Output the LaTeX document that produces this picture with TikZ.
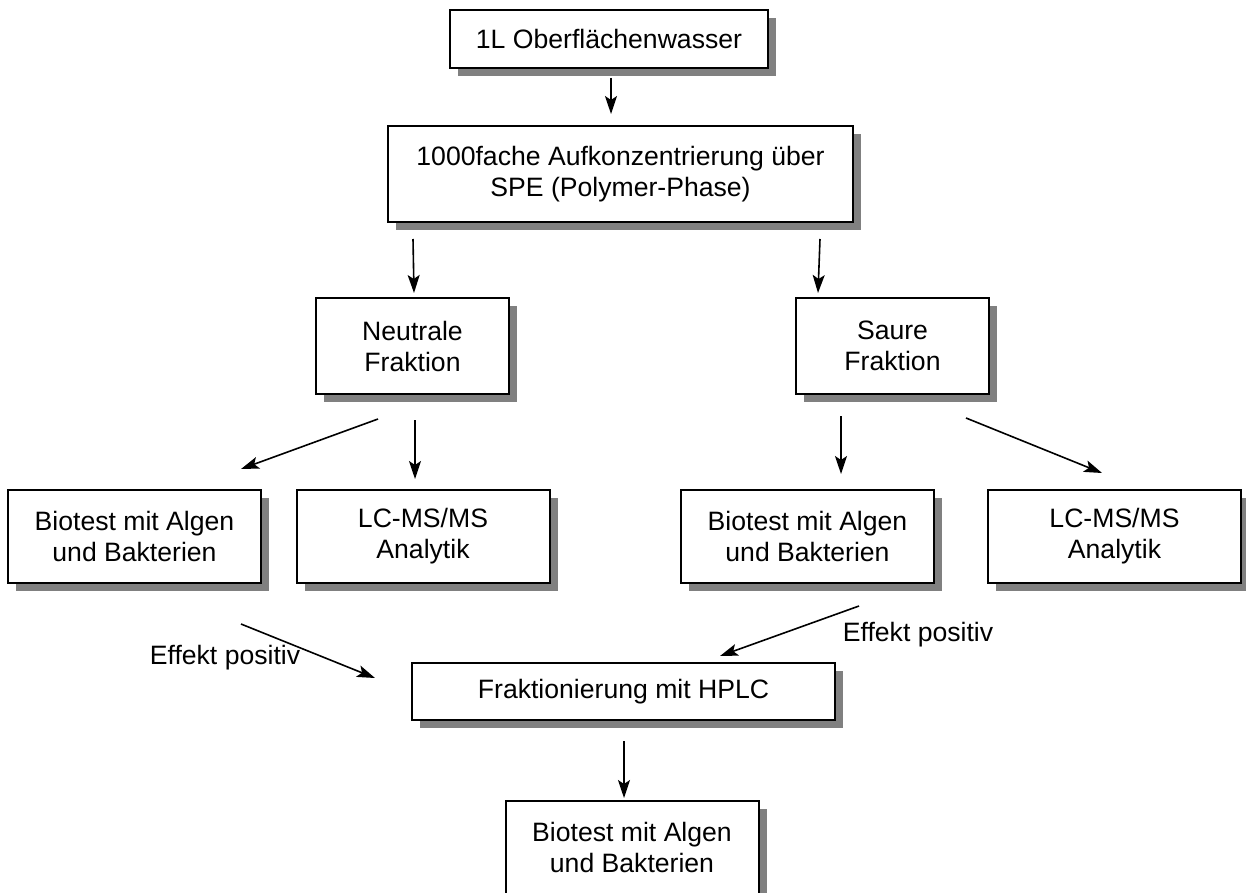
\documentclass[tikz,border=0pt]{standalone}
\usepackage{fontspec}
\setmainfont{Liberation Sans}
\usepackage{tikz}
\usetikzlibrary{arrows.meta,shadows}
\definecolor{flowgray}{HTML}{808080}
\definecolor{flowdark}{HTML}{000000}
\tikzset{
  box/.style={draw=flowdark,line width=1pt,fill=white,align=center,inner sep=0pt,
    drop shadow={shadow xshift=4pt,shadow yshift=-4pt,fill=flowgray,opacity=1},
    font=\fontsize{13.3}{15.5}\selectfont},
  wide/.style={box,minimum width=126.5pt,minimum height=46.5pt},
  narrow/.style={box,minimum width=96.5pt,minimum height=48pt},
  ar/.style={-{Stealth[length=9pt,width=6pt,inset=2pt]},draw=flowdark,line width=0.8pt},
  lbl/.style={font=\fontsize{13.3}{15.5}\selectfont,inner sep=0pt},
}
\begin{document}
\begin{tikzpicture}[x=0.5pt,y=-0.5pt]
    \useasboundingbox (0,0) rectangle (1246,893);
    \node[box,minimum width=159pt,minimum height=29pt] (water) at (609,39) {1L Oberflächenwasser};
    \node[box,minimum width=232.5pt,minimum height=48pt] (spe) at (620.5,174) {1000fache Aufkonzentrierung über\\SPE (Polymer-Phase)};
    \node[narrow] (neutral) at (412.5,346) {Neutrale\\Fraktion};
    \node[narrow] (saure) at (892.5,346) {Saure\\Fraktion};
    \node[wide] (bioL) at (134.5,536.5) {Biotest mit Algen\\und Bakterien};
    \node[wide] (lcL) at (423,536.5) {LC-MS/MS\\Analytik};
    \node[wide] (bioR) at (807.5,536.5) {Biotest mit Algen\\und Bakterien};
    \node[wide] (lcR) at (1114.5,536.5) {LC-MS/MS\\Analytik};
    \node[box,minimum width=211.5pt,minimum height=28.5pt] (hplc) at (623.5,691.5) {Fraktionierung mit HPLC};
    \node[wide] (bioEnd) at (632,847.5) {Biotest mit Algen\\und Bakterien};
    \node[lbl] (effL) at (225,658) {Effekt positiv};
    \node[lbl] (effR) at (918,635) {Effekt positiv};
    \draw[ar] ([shift={(2,9)}]water.south) -- ([shift={(-9.5,-11)}]spe.north);
    \draw[ar] ([shift={(26,16)}]spe.south west) -- ([shift={(1.5,-4)}]neutral.north);
    \draw[ar] ([shift={(-34,16)}]spe.south east) -- ([shift={(23,-4)}]saure.north west);
    \draw[ar] ([shift={(-34.5,24)}]neutral.south) -- ([shift={(-21,-20)}]bioL.north east);
    \draw[ar] ([shift={(2.5,25)}]neutral.south) -- ([shift={(-8,-10)}]lcL.north);
    \draw[ar] ([shift={(-51.5,21)}]saure.south) -- ([shift={(33.5,-15)}]bioR.north);
    \draw[ar] ([shift={(-24,23)}]saure.south east) -- ([shift={(-12.5,-16)}]lcR.north);
    \draw[ar] ([shift={(-21,40)}]bioL.south east) -- ([shift={(-36,16)}]hplc.north west);
    \draw[ar] ([shift={(-76,22)}]bioR.south east) -- ([shift={(96.5,-6)}]hplc.north);
    \draw[ar] ([shift={(0.5,20)}]hplc.south) -- ([shift={(-8,-2)}]bioEnd.north);
\end{tikzpicture}
\end{document}
